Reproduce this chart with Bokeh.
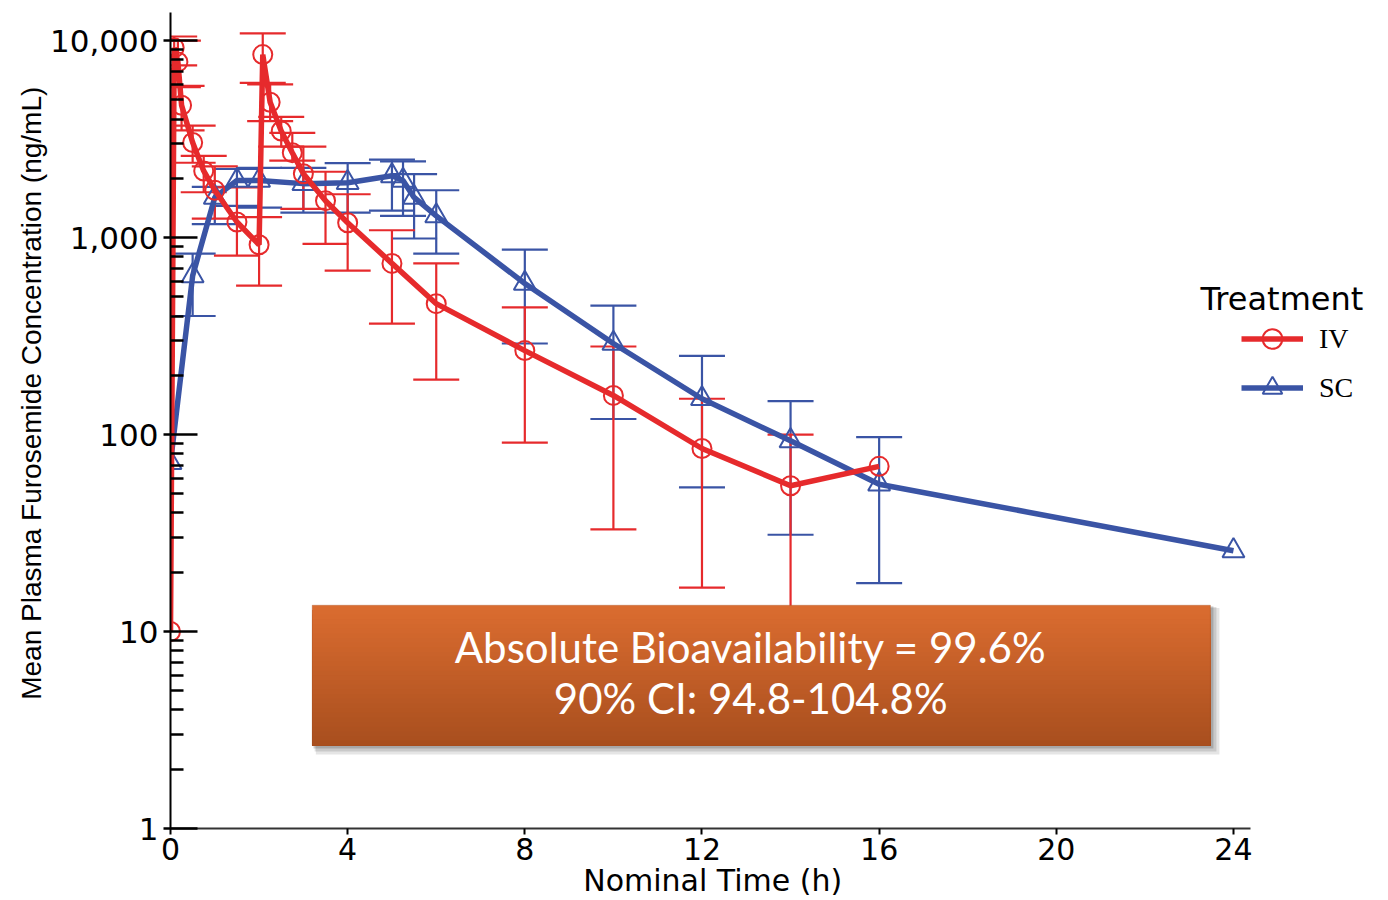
import numpy as np
from bokeh.plotting import figure
from bokeh.models import (ColumnDataSource, FixedTicker,
                          NumeralTickFormatter, Legend, LegendItem, BoxAnnotation,
                          Label, Range1d)
from bokeh.embed import file_html
from bokeh.resources import INLINE

# ---------------- data ----------------
iv_time = [0, 0.083, 0.167, 0.25, 0.5, 0.75, 1, 1.5, 2, 2.083, 2.25, 2.5, 2.75,
           3, 3.5, 4, 5, 6, 8, 10, 12, 14, 16]
iv_mean = [10, 9200, 7800, 4700, 3040, 2180, 1740, 1200, 920, 8500, 4870, 3480,
           2700, 2110, 1540, 1190, 740, 462, 267, 158, 85, 55, 69]
iv_upper = [None, 10500, 10000, 5900, 3700, 2600, 2300, 1800, 1270, 10900, 6000,
            4100, 3400, 2900, 2160, 1660, 1090, 740, 442, 280, 152, 100, None]
iv_lower = [None, 7500, 5800, 3500, 2400, 1700, 1250, 810, 570, 6100, 3900,
            2900, 2460, 1400, 930, 680, 366, 190, 91, 33, 16.7, 10, None]

sc_time = [0, 0.5, 1, 1.5, 2, 3, 4, 5, 5.25, 5.5, 6, 8, 10, 12, 14, 16, 24]
sc_mean = [72, 640, 1600, 1950, 1950, 1880, 1900, 2060, 1950, 1600, 1290, 585,
           290, 152, 93, 56, 25.7]
sc_upper = [None, 830, 1810, 2230, 2260, 2260, 2390, 2490, 2440, 2100, 1740, 870,
            452, 251, 148, 97, None]
sc_lower = [None, 400, 1170, 1450, 1420, 1340, 1340, 1370, 1290, 990, 830, 290,
            120, 54, 31, 17.6, None]

x_ticks = [0, 4, 8, 12, 16, 20, 24]
y_ticks = [1, 10, 100, 1000, 10000]

x_title = "Nominal Time (h)"
y_title = "Mean Plasma Furosemide Concentration (ng/mL)"
legend_title = "Treatment"
box_text = ["Absolute Bioavailability = 99.6%", "90% CI: 94.8-104.8%"]

RED = "#E62A2C"
BLUE = "#3A54A5"

PX_PER_H = 44.29
X_END = 24.38
NBSP = "\u00a0"

# ---------------- figure ----------------
p = figure(width=1388, height=900, y_axis_type="log",
           x_range=Range1d(0, (1388 - 170) / PX_PER_H), y_range=Range1d(1, 13900),
           output_backend="svg", toolbar_location=None,
           min_border_left=170, min_border_right=0,
           min_border_top=12, min_border_bottom=72)
p.outline_line_color = None
p.grid.visible = False
p.background_fill_color = "white"
p.border_fill_color = "white"


def bars(t, up, lo):
    keep = [i for i in range(len(t)) if up[i] is not None]
    return ColumnDataSource(dict(t=[t[i] for i in keep],
                                 up=[up[i] for i in keep],
                                 lo=[lo[i] for i in keep]))


iv_src = ColumnDataSource(dict(t=iv_time, m=iv_mean))
sc_src = ColumnDataSource(dict(t=sc_time, m=sc_mean))

for src, col in ((bars(sc_time, sc_upper, sc_lower), BLUE),
                 (bars(iv_time, iv_upper, iv_lower), RED)):
    p.segment(x0="t", y0="lo", x1="t", y1="up", source=src,
              line_color=col, line_width=2.2)
    for c in ("up", "lo"):
        p.scatter("t", c, source=src, marker="dash", size=46,
                  line_color=col, line_width=2.2)

sc_line = p.line("t", "m", source=sc_src, line_color=BLUE, line_width=5.5)
sc_pts = p.scatter("t", "m", source=sc_src, marker="triangle", size=22,
                   fill_color=None, line_color=BLUE, line_width=2)
iv_line = p.line("t", "m", source=iv_src, line_color=RED, line_width=5.5)
iv_pts = p.scatter("t", "m", source=iv_src, marker="circle", size=19,
                   fill_color=None, line_color=RED, line_width=2)

# ---------------- axes ----------------
ya = p.yaxis[0]
ya.ticker = FixedTicker(ticks=y_ticks,
                        minor_ticks=[m * d for d in [1, 10, 100, 1000] for m in range(2, 10)])
ya.formatter = NumeralTickFormatter(format="0,0")
ya.axis_line_width = 2
ya.axis_line_color = "black"
ya.major_tick_in = 27
ya.major_tick_out = 7
ya.major_tick_line_width = 2.5
ya.minor_tick_in = 13
ya.minor_tick_out = 0
ya.minor_tick_line_width = 2.5
ya.major_label_text_font = "DejaVu Sans"
ya.major_label_text_font_size = "31px"
ya.major_label_text_color = "black"
ya.major_label_standoff = 5
# leading no-break spaces nudge the centred title upward like the original
ya.axis_label = NBSP * 7 + y_title
ya.axis_label_text_font = "Liberation Sans"
ya.axis_label_text_font_size = "28px"
ya.axis_label_text_font_style = "normal"
ya.axis_label_text_color = "black"
ya.axis_label_standoff = 0

xa = p.xaxis[0]
xa.bounds = (0, X_END)
xa.ticker = FixedTicker(ticks=x_ticks, minor_ticks=[])
xa.axis_line_width = 2
xa.axis_line_color = "#333333"
xa.major_tick_in = 0
xa.major_tick_out = 6
xa.major_tick_line_width = 2
xa.major_label_text_font = "DejaVu Sans"
xa.major_label_text_font_size = "30px"
xa.major_label_text_color = "black"
xa.major_label_standoff = 3
# trailing no-break spaces centre the title under the drawn axis (0-24 h)
xa.axis_label = x_title + NBSP * 14
xa.axis_label_text_font = "DejaVu Sans"
xa.axis_label_text_font_size = "30px"
xa.axis_label_text_font_style = "normal"
xa.axis_label_text_color = "black"
xa.axis_label_standoff = 0

# ---------------- legend ----------------
legend = Legend(items=[LegendItem(label="IV", renderers=[iv_line, iv_pts]),
                       LegendItem(label="SC", renderers=[sc_line, sc_pts])],
                location=(1071, 416), orientation="vertical",
                glyph_width=62, glyph_height=49, spacing=0, label_standoff=16,
                padding=0, margin=0, border_line_color=None,
                background_fill_alpha=0,
                label_text_font="Liberation Serif", label_text_font_size="28px",
                label_text_color="black")
p.add_layout(legend)

p.add_layout(Label(x=(1200 - 170) / PX_PER_H, y=490, text=legend_title,
                   text_font="DejaVu Sans", text_font_size="32px",
                   text_color="black", text_baseline="middle", text_align="left"))

# ---------------- annotation box ----------------
bx_l, bx_r, bx_t, bx_b = 3.2, 23.48, 13.6, 2.64
dx = 5 / PX_PER_H
fy = 10 ** (-5 / 197)
for k, a in enumerate([0.10, 0.12, 0.16]):
    s = (3 - k) * 0.6
    p.add_layout(BoxAnnotation(left=bx_l + dx * s * 0.4, right=bx_r + dx * s,
                               top=bx_t * fy ** (s * 0.3), bottom=bx_b * fy ** s,
                               fill_color="black", fill_alpha=a, line_color=None))

top_c = np.array([0xDB, 0x6D, 0x30])
bot_c = np.array([0xA8, 0x4E, 0x1E])
n = 30
lt, lb = np.log10(bx_t), np.log10(bx_b)
for i in range(n):
    f = (i + 0.5) / n
    c = top_c + (bot_c - top_c) * f
    hexc = "#%02x%02x%02x" % tuple(int(round(v)) for v in c)
    p.add_layout(BoxAnnotation(left=bx_l, right=bx_r,
                               top=10 ** (lt + (lb - lt) * i / n),
                               bottom=bx_b,
                               fill_color=hexc, fill_alpha=1, line_color=None))
p.add_layout(BoxAnnotation(left=bx_l, right=bx_r, top=bx_t, bottom=bx_b,
                           fill_alpha=0, line_color="#9A4A1E", line_width=1))

for txt, yy in zip(box_text, [8.3, 4.62]):
    p.add_layout(Label(x=13.1, y=yy, text=txt, text_font="Lato",
                       text_font_size="42px", text_color="white",
                       text_align="center", text_baseline="middle"))

open("out.html", "w").write(file_html(p, INLINE))
